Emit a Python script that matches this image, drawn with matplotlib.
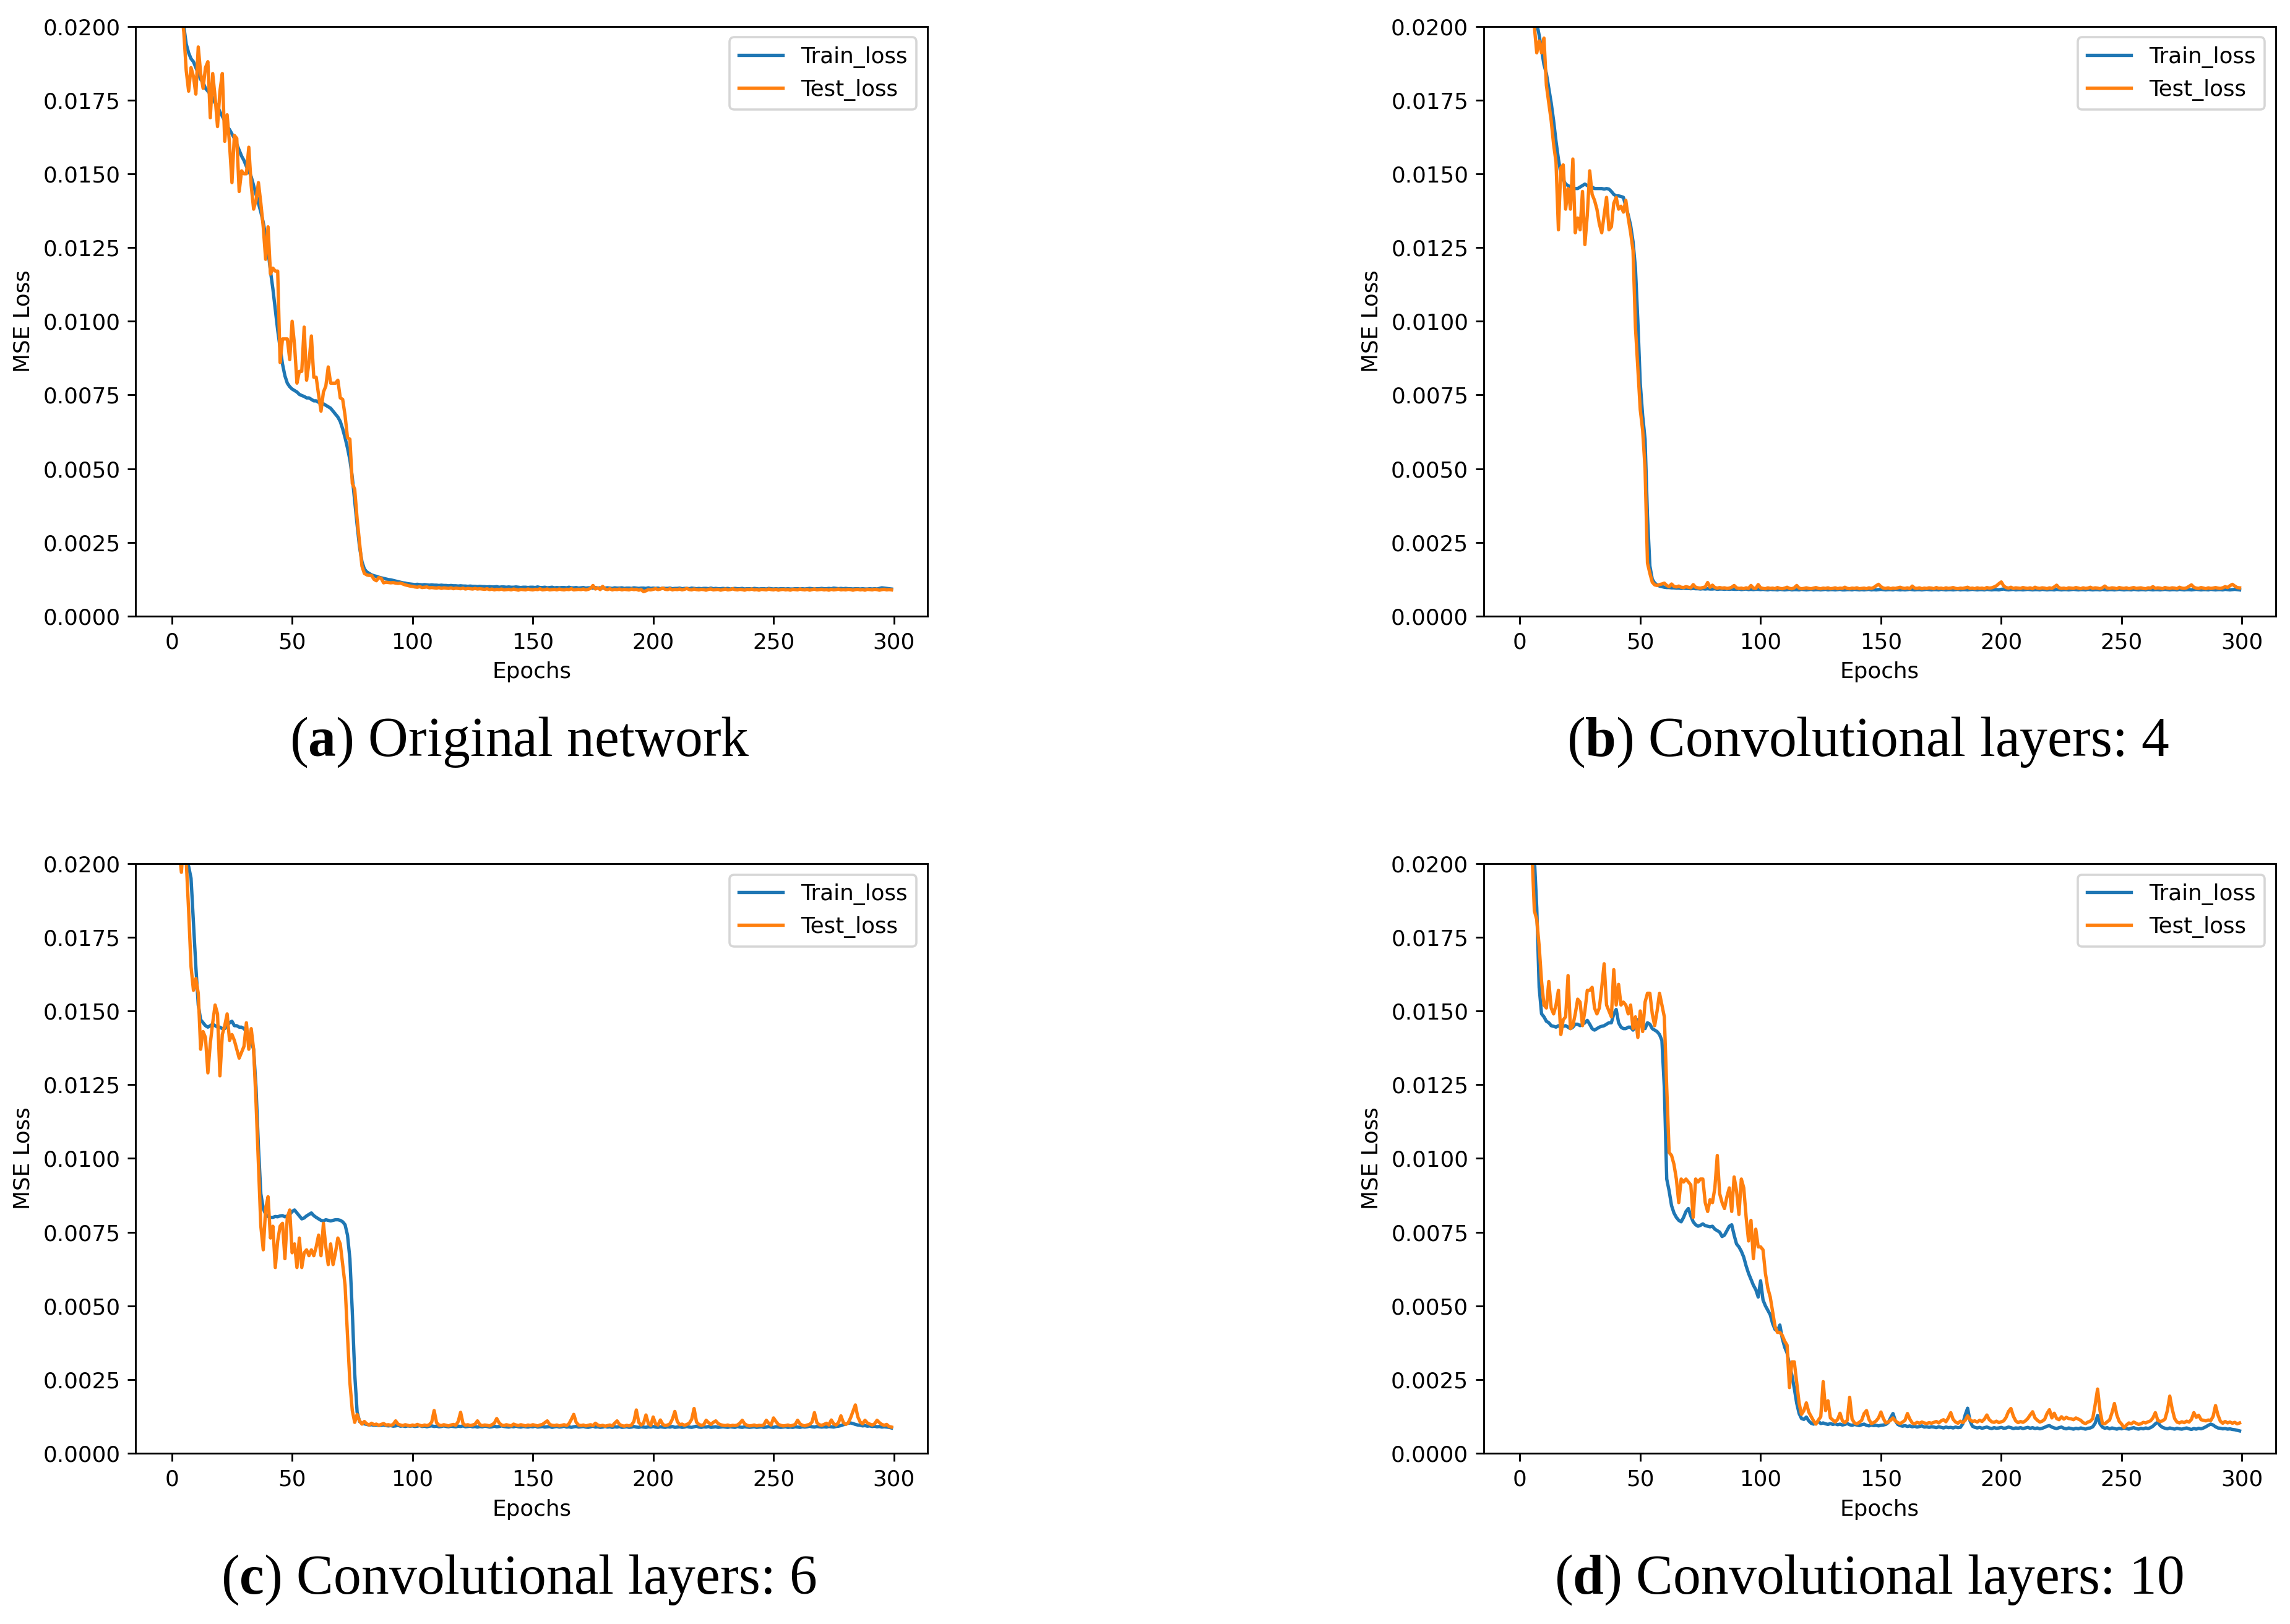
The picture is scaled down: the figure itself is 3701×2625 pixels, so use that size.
import numpy as np
import matplotlib
matplotlib.use("Agg")
import matplotlib.pyplot as plt

# loss values, in units of 1e-4, one value per epoch (0..299)
UNIT = 1e-4

TRAIN_A = [
    520, 380, 300, 250, 218, 200, 194, 191, 189, 188,
    186, 184, 182, 181, 179, 178, 177, 175.5, 174, 173,
    171, 169.5, 168, 166, 165, 163.5, 162, 160, 158, 156,
    154.5, 152.5, 151, 149, 146, 143, 140, 137, 133.5, 129,
    124, 117, 111, 104, 97, 91, 85.5, 81.5, 79, 77.8,
    77, 76.5, 76, 75.2, 74.8, 74.5, 74, 74, 73.5, 73,
    73, 72.5, 72, 72, 71.5, 71, 70.5, 69.5, 68.5, 67.5,
    66, 63.5, 60.5, 57, 53, 47, 39, 31, 23.5, 18.5,
    16, 15, 14.5, 14, 13.7, 13.5, 13.2, 13, 12.8, 12.6,
    12.4, 12.3, 12.1, 11.9, 11.7, 11.5, 11.3, 11.2, 11.0, 10.9,
    10.8, 10.7, 10.8, 10.7, 10.6, 10.7, 10.6, 10.5, 10.6, 10.5,
    10.5, 10.4, 10.5, 10.4, 10.4, 10.3, 10.4, 10.3, 10.3, 10.2,
    10.3, 10.2, 10.2, 10.1, 10.2, 10.1, 10.1, 10.0, 10.1, 10.0,
    10.0, 9.9, 10.0, 9.9, 9.9, 10.0, 9.8, 9.9, 9.9, 9.8,
    9.9, 9.8, 9.8, 9.9, 9.8, 9.7, 9.8, 9.8, 9.7, 9.8,
    9.8, 9.7, 9.9, 9.7, 9.7, 9.8, 9.6, 9.7, 9.8, 9.6,
    9.7, 9.6, 9.7, 9.7, 9.6, 9.8, 9.6, 9.6, 9.7, 9.5,
    9.6, 9.7, 9.5, 9.6, 9.6, 9.5, 9.7, 9.5, 9.6, 9.5,
    9.5, 9.6, 9.5, 9.4, 9.6, 9.5, 9.5, 9.6, 9.4, 9.5,
    9.5, 9.4, 9.6, 9.5, 9.4, 9.5, 9.5, 9.4, 9.6, 9.4,
    9.5, 9.4, 9.5, 9.3, 9.5, 9.4, 9.4, 9.5, 9.3, 9.4,
    9.4, 9.5, 9.3, 9.4, 9.4, 9.3, 9.5, 9.4, 9.3, 9.4,
    9.3, 9.4, 9.4, 9.3, 9.5, 9.3, 9.4, 9.3, 9.3, 9.4,
    9.3, 9.4, 9.2, 9.3, 9.4, 9.3, 9.3, 9.4, 9.2, 9.3,
    9.3, 9.2, 9.4, 9.3, 9.2, 9.3, 9.3, 9.2, 9.4, 9.3,
    9.2, 9.3, 9.2, 9.3, 9.3, 9.2, 9.3, 9.2, 9.2, 9.3,
    9.3, 9.2, 9.3, 9.2, 9.3, 9.4, 9.3, 9.2, 9.3, 9.3,
    9.4, 9.3, 9.3, 9.4, 9.3, 9.5, 9.4, 9.3, 9.4, 9.3,
    9.4, 9.3, 9.3, 9.2, 9.3, 9.3, 9.2, 9.3, 9.2, 9.2,
    9.3, 9.2, 9.3, 9.2, 9.4, 9.6, 9.5, 9.4, 9.3, 9.2,
]
TEST_A = [
    480, 350, 270, 225, 205, 198, 185, 178, 186, 183,
    177, 193, 184, 179, 186, 188, 169, 184, 176, 166,
    178, 184, 161, 170, 160, 147, 163, 162, 144, 151,
    150, 150, 159, 146, 138, 141, 147, 140, 132, 121,
    132, 116, 118, 117, 117, 86, 94, 94, 94, 87,
    100, 92, 79, 83, 83, 98, 80, 86, 95, 81,
    81, 75, 69.5, 76, 78, 84.5, 79, 79, 79, 80,
    74, 73.5, 68, 60.5, 60, 45, 43, 33, 25, 17,
    14.5, 14, 13.8, 13.8, 12.5, 12, 13.1, 12.8, 11.3, 11.5,
    11.4, 11.3, 11.4, 11.2, 11.1, 11.2, 10.9, 10.6, 10.4, 10.2,
    10.1, 9.9, 9.8, 10.0, 9.7, 9.8, 9.9, 9.6, 9.7, 9.6,
    9.5, 9.7, 9.4, 9.6, 9.5, 9.4, 9.6, 9.3, 9.5, 9.4,
    9.3, 9.5, 9.2, 9.4, 9.3, 9.2, 9.4, 9.2, 9.3, 9.2,
    9.1, 9.3, 9.0, 9.2, 8.9, 9.1, 9.0, 9.2, 8.9, 9.0,
    9.1, 8.9, 9.2, 9.0, 8.8, 9.1, 9.0, 8.9, 9.2, 9.0,
    8.9, 9.1, 9.0, 9.3, 8.9, 9.0, 9.2, 8.9, 9.0, 9.1,
    8.9, 9.2, 9.0, 8.9, 9.1, 9.0, 9.3, 8.9, 9.0, 9.1,
    9.0, 9.2, 8.9, 9.1, 9.4, 10.4, 9.2, 9.6, 9.0, 10.1,
    9.2, 9.0, 9.3, 8.9, 9.1, 9.0, 9.2, 8.9, 9.1, 9.0,
    8.9, 9.2, 9.0, 9.1, 8.8, 9.0, 8.3, 8.6, 9.0, 8.9,
    9.1, 9.3, 9.0, 9.2, 9.5, 9.1, 9.0, 9.3, 8.9, 9.1,
    9.0, 9.2, 8.9, 9.1, 9.4, 9.0, 8.9, 9.2, 9.0, 8.9,
    9.1, 9.0, 8.8, 9.1, 9.2, 8.9, 9.0, 9.1, 8.8, 9.0,
    9.2, 8.9, 9.0, 9.3, 9.0, 8.9, 9.1, 9.0, 8.8, 9.1,
    9.0, 9.2, 8.9, 9.0, 8.8, 9.1, 9.0, 8.9, 9.2, 9.0,
    8.9, 9.1, 8.8, 9.0, 9.1, 8.9, 9.0, 8.8, 9.1, 9.0,
    8.9, 9.2, 9.0, 8.9, 9.1, 8.8, 9.0, 9.2, 8.9, 9.0,
    9.1, 8.9, 9.0, 8.8, 9.1, 8.9, 9.0, 9.2, 8.9, 9.0,
    8.9, 9.1, 9.0, 8.8, 9.0, 9.1, 8.9, 9.0, 8.8, 9.1,
    9.0, 8.9, 9.1, 9.0, 8.8, 9.0, 9.1, 8.9, 9.0, 8.9,
]

TRAIN_B = [
    600, 420, 330, 270, 235, 215, 205, 201, 197, 192,
    187, 184, 179, 174, 168, 161, 155, 150, 148, 146.5,
    146, 145.5, 145, 145, 145, 145.5, 146, 146.5, 146, 145.5,
    145.5, 145, 145, 145, 145, 144.8, 145, 144.8, 144, 143,
    142.5, 142.5, 142.3, 142, 139, 136, 132.5, 127, 118, 100,
    79, 68, 60, 34, 17, 12.5, 11.2, 10.6, 10.2, 10.0,
    9.8, 9.7, 9.7, 9.6, 9.6, 9.5, 9.5, 9.4, 9.5, 9.4,
    9.4, 9.3, 9.4, 9.3, 9.3, 9.2, 9.3, 9.2, 9.3, 9.2,
    9.2, 9.3, 9.1, 9.2, 9.2, 9.1, 9.2, 9.1, 9.2, 9.1,
    9.1, 9.2, 9.0, 9.1, 9.2, 9.0, 9.1, 9.0, 9.1, 9.1,
    9.0, 9.1, 9.0, 8.9, 9.1, 9.0, 9.0, 8.9, 9.1, 9.0,
    8.9, 9.0, 9.1, 8.9, 9.0, 9.0, 8.9, 9.1, 9.0, 8.9,
    9.0, 9.1, 8.9, 9.0, 9.0, 8.9, 9.0, 9.1, 8.9, 9.0,
    9.0, 8.9, 9.0, 9.1, 8.9, 8.9, 9.0, 9.0, 8.9, 9.1,
    9.0, 8.9, 9.0, 8.9, 9.0, 9.1, 8.9, 9.0, 8.9, 9.0,
    9.1, 9.0, 8.9, 9.0, 9.0, 8.9, 9.1, 9.0, 8.9, 9.0,
    8.9, 9.0, 9.1, 9.0, 8.9, 9.0, 9.0, 8.9, 9.0, 9.1,
    9.0, 8.9, 9.0, 9.0, 8.9, 9.1, 9.0, 8.9, 9.0, 9.0,
    8.9, 9.0, 9.1, 8.9, 9.0, 9.0, 8.9, 9.0, 9.1, 9.0,
    8.9, 9.0, 9.0, 8.9, 9.1, 9.0, 8.9, 9.0, 9.0, 8.9,
    9.1, 9.2, 9.0, 8.9, 9.0, 9.1, 8.9, 9.0, 9.0, 8.9,
    9.0, 9.1, 9.0, 8.9, 9.0, 9.0, 8.9, 9.1, 9.0, 8.9,
    9.0, 9.0, 8.9, 9.1, 9.0, 8.9, 9.0, 9.0, 8.9, 9.0,
    9.1, 9.0, 8.9, 9.0, 9.0, 8.9, 9.1, 9.0, 8.9, 9.0,
    9.0, 8.9, 9.1, 9.0, 8.9, 9.0, 9.0, 8.9, 9.0, 9.1,
    9.0, 8.9, 9.0, 9.0, 8.9, 9.1, 9.0, 8.9, 9.0, 9.0,
    8.9, 9.1, 9.0, 8.9, 9.0, 9.0, 8.9, 9.0, 9.1, 9.0,
    8.9, 9.0, 9.0, 8.9, 9.1, 9.0, 8.9, 9.0, 9.0, 8.9,
    9.0, 9.1, 9.0, 8.9, 9.0, 9.0, 8.9, 9.1, 9.0, 8.9,
    9.0, 9.0, 8.9, 9.1, 9.0, 8.9, 9.0, 9.1, 9.0, 8.9,
]
TEST_B = [
    560, 400, 310, 255, 222, 205, 200, 191, 195, 191,
    196, 180, 174, 168, 160, 154, 131, 152, 153, 138,
    145, 138, 155, 130, 135, 131, 144, 126, 136, 151,
    143, 141, 138, 133, 130, 136, 142, 131, 132, 140,
    142, 138, 139, 137, 141, 135, 130, 124, 98, 84,
    70, 63, 50, 18, 14.5, 11.5, 10.6, 10.4, 10.7, 10.9,
    11.2, 10.4, 10.0, 10.9, 10.1, 9.9, 10.2, 9.8, 9.7, 10.0,
    9.8, 9.6, 10.7, 9.8, 9.6, 9.5, 9.7, 9.9, 11.4, 9.8,
    10.5, 9.7, 9.5, 9.7, 9.5, 9.6, 9.4, 9.5, 9.8, 10.4,
    9.6, 9.4, 9.5, 9.3, 9.6, 9.4, 10.4, 9.5, 9.4, 10.7,
    9.6, 9.4, 9.3, 9.6, 9.4, 9.5, 9.3, 9.7, 9.4, 9.3,
    9.5, 9.8, 9.4, 9.3, 9.6, 10.4, 9.5, 9.3, 9.4, 9.6,
    9.4, 9.3, 9.5, 9.7, 9.4, 9.3, 9.5, 9.4, 9.6, 9.3,
    9.4, 9.6, 9.3, 9.5, 9.4, 9.8, 9.4, 9.3, 9.5, 9.4,
    9.6, 9.3, 9.4, 9.5, 9.3, 9.6, 9.4, 9.7, 10.3, 10.8,
    10.0, 9.5, 9.4, 9.6, 9.3, 9.5, 9.4, 9.6, 9.8, 9.5,
    9.4, 9.6, 9.3, 10.2, 9.5, 9.4, 9.6, 9.3, 9.5, 9.4,
    9.6, 9.5, 9.3, 9.7, 9.4, 9.5, 9.3, 9.6, 9.4, 9.5,
    9.7, 9.4, 9.3, 9.5, 9.4, 9.6, 9.8, 9.4, 9.5, 9.3,
    9.6, 9.4, 9.5, 9.3, 9.7, 9.5, 9.6, 9.9, 10.3, 11.0,
    11.6, 10.2, 9.7, 9.5, 9.8, 9.4, 9.6, 9.5, 9.4, 9.7,
    9.5, 9.4, 9.6, 9.3, 9.8, 9.5, 9.4, 9.6, 9.5, 9.3,
    9.6, 9.4, 9.9, 10.5, 9.6, 9.4, 9.5, 9.3, 9.6, 9.5,
    9.4, 9.7, 9.5, 9.3, 9.6, 9.4, 9.5, 9.8, 9.4, 9.6,
    9.5, 9.3, 9.6, 10.2, 9.5, 9.4, 9.6, 9.5, 9.3, 9.7,
    9.5, 9.4, 9.6, 9.3, 9.5, 9.7, 9.4, 9.5, 9.6, 9.4,
    9.3, 9.6, 9.5, 10.0, 9.4, 9.6, 9.5, 9.3, 9.7, 9.5,
    9.4, 9.6, 9.5, 9.3, 9.8, 9.5, 9.4, 9.6, 10.1, 10.6,
    9.8, 9.5, 9.4, 9.7, 9.5, 9.3, 9.6, 9.4, 9.5, 9.7,
    9.5, 9.4, 9.6, 10.0, 9.7, 10.3, 10.8, 10.2, 9.7, 9.6,
]

TRAIN_C = [
    520, 370, 290, 245, 222, 210, 203, 199, 195, 180,
    165, 152, 147, 146, 145, 144.5, 145, 145.5, 145, 144.5,
    144.5, 144, 144, 145, 146, 146.5, 145, 145, 144.5, 144.5,
    144, 143, 141.5, 139.5, 137, 124, 104, 88, 83, 81,
    80.3, 80, 80, 80.3, 80.2, 80.5, 80.6, 80.2, 80.5, 81,
    82, 82.5, 81.5, 80.5, 79.5, 79.8, 80.5, 81, 81.5, 80.6,
    80, 79.5, 79, 78.8, 79.2, 79, 78.8, 79, 79.2, 79.2,
    79, 78.5, 77.5, 74, 66, 48, 27, 14, 10.8, 10.2,
    10.0, 9.8, 9.6, 9.7, 9.5, 9.6, 9.4, 9.5, 9.6, 9.4,
    9.3, 9.4, 9.2, 9.3, 9.5, 9.2, 9.3, 9.1, 9.3, 9.2,
    9.3, 9.1, 9.2, 9.4, 9.1, 9.2, 9.0, 9.2, 9.3, 9.1,
    9.2, 9.0, 9.1, 9.3, 9.1, 9.0, 9.2, 9.1, 9.0, 9.2,
    9.1, 9.3, 9.0, 9.1, 9.2, 9.0, 9.1, 8.9, 9.1, 9.0,
    9.2, 9.1, 8.9, 9.0, 9.2, 9.0, 9.1, 9.3, 9.1, 9.0,
    8.9, 9.1, 9.0, 9.2, 9.0, 8.9, 9.1, 9.0, 8.9, 9.1,
    9.0, 9.2, 8.9, 9.0, 9.1, 8.9, 9.0, 9.1, 8.8, 9.0,
    9.1, 8.9, 9.0, 9.2, 8.9, 9.0, 8.8, 9.0, 9.1, 8.9,
    9.0, 9.1, 8.9, 8.8, 9.0, 9.2, 8.9, 9.0, 8.8, 8.9,
    9.1, 8.9, 9.0, 8.8, 9.0, 8.9, 9.1, 8.8, 8.9, 9.0,
    8.8, 8.9, 9.1, 8.9, 8.8, 9.0, 8.9, 8.8, 9.0, 8.9,
    9.1, 8.9, 8.8, 9.0, 8.9, 8.8, 9.0, 8.9, 9.1, 8.8,
    8.9, 9.0, 8.8, 8.9, 9.1, 8.9, 8.8, 9.0, 9.2, 8.9,
    8.8, 9.0, 8.9, 9.1, 8.8, 8.9, 9.0, 8.8, 8.9, 9.0,
    8.9, 8.8, 9.0, 8.9, 8.8, 9.1, 8.9, 8.8, 9.0, 8.9,
    8.8, 8.9, 9.0, 8.8, 8.9, 9.0, 8.8, 8.9, 9.1, 8.9,
    8.8, 9.0, 8.9, 8.8, 8.9, 9.0, 8.8, 8.9, 8.8, 9.0,
    8.9, 8.8, 9.0, 8.9, 9.0, 9.2, 9.0, 8.9, 9.1, 9.0,
    8.9, 9.0, 8.9, 9.1, 9.0, 8.9, 9.1, 9.2, 9.4, 9.7,
    9.9, 10.2, 10.3, 10.1, 9.8, 9.6, 9.5, 9.3, 9.4, 9.2,
    9.3, 9.1, 9.2, 9.0, 9.1, 8.9, 9.0, 8.9, 8.8, 8.6,
]
TEST_C = [
    300, 250, 215, 205, 197, 210, 201, 184, 165, 157,
    161, 156, 137, 143, 141, 129, 139, 146, 152, 149,
    128, 142, 145, 149, 140, 142, 140, 137, 134, 136,
    138, 146, 137, 144, 137, 119, 98, 77, 69, 83,
    87, 73, 77, 63, 72, 77, 78, 66, 80, 82.5,
    68, 71, 63, 73, 63, 68, 69, 67, 69, 67,
    70, 74, 67, 78, 70, 64, 71, 64, 68, 73,
    71, 64, 57, 40, 24, 14.5, 10.5, 13.2, 11.0, 9.9,
    10.8, 10.0, 9.6, 10.2, 9.7, 9.9, 9.5, 9.8, 10.1, 9.6,
    9.7, 9.5, 9.8, 11.0, 9.9, 9.6, 9.4, 9.7, 9.5, 9.3,
    9.6, 9.4, 9.8, 9.5, 9.3, 9.6, 9.4, 9.7, 10.6, 14.5,
    10.4, 9.6, 9.4, 9.7, 9.5, 9.3, 9.6, 9.8, 9.5, 10.8,
    13.9, 10.1, 9.5, 9.7, 9.4, 9.6, 9.9, 11.0, 9.7, 9.4,
    9.6, 9.5, 9.3, 9.7, 10.2, 11.8, 10.3, 9.6, 9.4, 9.7,
    9.5, 9.3, 9.9, 9.6, 9.4, 9.7, 9.5, 9.3, 9.6, 9.4,
    9.7, 9.5, 9.3, 9.6, 9.8, 10.4, 11.0, 9.8, 9.5, 9.4,
    9.6, 9.3, 9.5, 9.7, 9.4, 10.0, 11.5, 13.2, 10.5, 9.6,
    9.4, 9.6, 9.3, 9.5, 9.7, 9.4, 10.2, 9.6, 9.3, 9.5,
    9.2, 9.4, 9.6, 9.3, 10.2, 11.0, 9.8, 9.4, 9.2, 9.5,
    9.3, 9.6, 10.8, 14.7, 10.5, 9.6, 10.2, 13.0, 10.1, 9.5,
    12.3, 10.0, 9.6, 11.3, 9.8, 9.4, 9.6, 10.0, 11.6, 14.2,
    10.8, 9.7, 9.9, 9.5, 9.8, 10.2, 11.5, 15.2, 10.6, 9.8,
    9.5, 9.7, 11.2, 10.4, 9.8, 10.5, 11.0, 10.1, 9.7, 9.5,
    9.4, 9.6, 9.3, 9.5, 9.4, 9.6, 10.2, 11.2, 10.0, 9.5,
    9.3, 9.4, 9.6, 9.3, 9.5, 9.4, 9.7, 11.2, 10.2, 9.6,
    12.0, 10.8, 9.8, 9.5, 9.3, 9.4, 9.6, 9.3, 9.5, 9.8,
    11.2, 10.0, 9.5, 9.3, 9.6, 9.8, 10.6, 13.8, 10.4, 9.7,
    9.5, 9.8, 10.2, 9.6, 11.3, 10.0, 9.6, 10.4, 12.7, 10.5,
    9.8, 10.3, 12.0, 14.2, 16.4, 12.4, 10.6, 10.0, 11.2, 10.3,
    9.9, 9.6, 10.0, 11.2, 10.4, 9.8, 9.5, 9.8, 9.1, 8.9,
]

TRAIN_D = [
    480, 350, 280, 240, 220, 207, 202, 185, 158, 149,
    148, 146.5, 146, 145, 144.8, 144.5, 145, 144.5, 144.8, 145,
    144.5, 144, 144.5, 145.5, 145.5, 145, 145.5, 146, 146.8, 145.5,
    144, 143.5, 144, 144.5, 144.8, 145, 145.5, 146, 146, 149,
    150.5, 146, 144.5, 144, 144, 144.5, 144.5, 143.5, 145, 147,
    146, 145, 144, 146, 145.5, 144, 143.5, 143, 142, 140,
    124, 93, 89, 84, 81.5, 80, 79, 78.5, 80, 82,
    83, 80.5, 78.5, 77.5, 77, 77.3, 77.8, 77.2, 77, 76.8,
    77, 76, 75.5, 75, 73.5, 74, 75.5, 77, 77.5, 74,
    71, 70, 68.5, 66.5, 63.5, 61, 59, 57, 55.5, 53,
    58.5, 52, 50, 48.5, 47, 44, 42, 41.5, 43.5, 39,
    36, 34, 30, 26.5, 22, 17, 13.5, 11.8, 11.5, 12.3,
    11.0, 10.2, 9.9, 10.3, 10.8, 10.1, 10.3, 10.0, 9.8, 10.1,
    9.8, 10.0, 9.7, 9.9, 9.6, 9.8, 10.1, 9.7, 9.5, 9.8,
    9.6, 9.4, 9.7, 9.9, 9.5, 9.3, 9.6, 9.4, 9.5, 9.3,
    9.5, 9.6, 9.8, 10.4, 12.0, 13.5, 11.0, 9.8, 9.4, 9.2,
    9.4, 9.1, 9.3, 9.0, 9.2, 8.9, 9.1, 9.3, 8.9, 9.0,
    8.8, 9.0, 8.9, 8.7, 9.0, 8.8, 8.6, 8.9, 8.7, 8.8,
    8.6, 8.9, 8.7, 8.8, 10.0, 13.0, 15.3, 11.0, 9.2, 8.8,
    8.6, 8.8, 8.5, 8.7, 8.9, 8.6, 8.4, 8.7, 8.5, 8.6,
    8.8, 8.5, 8.6, 8.9, 8.7, 8.4, 8.6, 8.5, 8.7, 8.4,
    8.6, 8.8, 8.5, 8.7, 8.4, 8.6, 8.3, 8.5, 8.8, 9.2,
    9.4, 8.9, 8.6, 8.4, 8.7, 8.9, 8.5, 8.3, 8.6, 8.4,
    8.2, 8.5, 8.3, 8.6, 8.4, 8.2, 8.5, 8.6, 9.0, 10.2,
    12.8, 10.0, 8.9, 8.5, 8.7, 8.3, 8.6, 8.4, 8.2, 8.5,
    8.3, 8.6, 8.4, 8.2, 8.5, 8.7, 8.4, 8.2, 8.5, 8.3,
    8.6, 8.4, 8.7, 9.2, 10.0, 10.6, 9.4, 8.8, 8.5, 8.3,
    8.6, 8.4, 8.2, 8.5, 8.3, 8.2, 8.4, 8.6, 8.3, 8.1,
    8.4, 8.2, 8.5, 8.3, 8.6, 9.0, 9.5, 9.9, 9.6, 9.0,
    8.6, 8.5, 8.3, 8.4, 8.2, 8.3, 8.1, 8.0, 7.8, 7.6,
]
TEST_D = [
    500, 360, 290, 245, 215, 204, 184, 181, 172, 160,
    152, 151, 160, 151, 149, 152, 157, 142, 147, 148,
    162, 144, 145, 149, 154, 153, 145, 150, 157, 157,
    158, 151, 149, 151, 158, 166, 152, 150, 148, 164,
    152, 159, 152, 153, 152, 149, 152, 144, 148, 141,
    150, 143, 153, 156, 156, 149, 145, 150, 156, 152,
    148, 124, 102, 101, 98, 93, 85, 93, 92, 93,
    92, 91, 80, 93, 92, 93, 93, 85, 82, 86,
    85, 90, 101, 88, 85, 83, 87, 90, 82, 93.7,
    89, 81, 93, 90, 80, 72, 79, 66, 76, 70,
    70, 69, 61, 56, 53, 48, 43, 41, 41, 40,
    38, 36.7, 22.3, 31, 31, 24, 17, 13.2, 14.5, 17.1,
    14.0, 12.5, 11.0, 9.9, 11.3, 12.4, 24.3, 14.5, 17.8, 12.0,
    11.3, 10.6, 11.5, 13.6, 11.0, 10.4, 11.2, 19.0, 11.6, 10.3,
    10.0, 10.5, 11.2, 13.5, 14.5, 11.5, 10.1, 10.4, 11.0, 12.0,
    14.0, 11.8, 10.3, 10.6, 11.2, 12.0, 11.0, 10.4, 10.1, 10.6,
    11.2, 13.5, 11.6, 10.3, 10.0, 10.5, 10.2, 10.6, 10.3, 10.1,
    10.4, 10.2, 10.5, 10.8, 10.3, 11.0, 11.4, 10.7, 12.0, 13.8,
    11.5, 10.6, 10.2, 10.9, 10.4, 11.2, 12.7, 11.4, 10.8, 11.0,
    10.6, 11.2, 10.8, 11.6, 13.0, 11.4, 10.7, 10.5, 10.9, 10.4,
    10.7, 11.0, 12.2, 14.2, 15.2, 12.6, 11.0, 10.4, 10.8, 10.5,
    11.0, 11.8, 13.0, 14.1, 12.0, 11.2, 10.6, 10.9, 11.5, 13.5,
    14.8, 12.0, 13.6, 11.8, 11.4, 12.4, 11.6, 12.2, 11.8, 11.7,
    11.4, 12.0, 11.6, 11.2, 10.4, 10.1, 10.6, 10.9, 11.8, 16.5,
    21.8, 14.5, 10.2, 10.0, 10.7, 11.3, 13.8, 16.9, 13.0, 10.8,
    9.9, 8.7, 9.6, 10.3, 10.0, 10.6, 10.2, 9.8, 10.0, 10.5,
    10.3, 10.7, 11.0, 12.0, 13.8, 11.2, 10.8, 11.0, 11.6, 14.5,
    19.4, 15.0, 11.8, 10.6, 10.3, 10.7, 10.4, 10.9, 10.6, 11.5,
    13.8, 12.2, 12.9, 11.4, 11.2, 11.0, 11.3, 11.1, 12.5, 16.2,
    13.0, 10.9, 10.2, 10.8, 10.3, 10.6, 10.2, 10.5, 10.0, 10.3,
]

CAPTIONS = [
    r"($\mathbf{a}$) Original network",
    r"($\mathbf{b}$) Convolutional layers: 4",
    r"($\mathbf{c}$) Convolutional layers: 6",
    r"($\mathbf{d}$) Convolutional layers: 10",
]
PANELS = [(TRAIN_A, TEST_A), (TRAIN_B, TEST_B), (TRAIN_C, TEST_C), (TRAIN_D, TEST_D)]

# each panel is a default 6.4x4.8 matplotlib figure shrunk to ~0.86
k = 0.86
plt.rcParams.update({
    "font.family": "DejaVu Sans",
    "font.size": 10 * k,
    "axes.linewidth": 0.8 * k,
    "lines.linewidth": 1.5 * k,
    "patch.linewidth": 1.0 * k,
    "xtick.major.size": 3.5 * k, "ytick.major.size": 3.5 * k,
    "xtick.major.width": 0.8 * k, "ytick.major.width": 0.8 * k,
    "xtick.major.pad": 3.5 * k, "ytick.major.pad": 3.5 * k,
    "axes.labelpad": 4.0 * k,
    "mathtext.fontset": "custom",
    "mathtext.rm": "Liberation Serif",
    "mathtext.bf": "Liberation Serif:bold",
})

fig = plt.figure(figsize=(3701 / 300, 2625 / 300), dpi=300)

rects = [
    [0.0593, 0.6206, 0.3457, 0.3632],
    [0.6480, 0.6206, 0.3457, 0.3632],
    [0.0593, 0.1051, 0.3457, 0.3632],
    [0.6480, 0.1051, 0.3457, 0.3632],
]
cap_pos = [(0.227, 0.5345), (0.8157, 0.5345), (0.2265, 0.019), (0.816, 0.019)]

for i, (train, test) in enumerate(PANELS):
    assert len(train) == 300 and len(test) == 300, (i, len(train), len(test))
    ax = fig.add_axes(rects[i])
    ep = np.arange(len(train))
    ax.plot(ep, np.array(train) * UNIT, color="#1f77b4", label="Train_loss")
    ax.plot(np.arange(len(test)), np.array(test) * UNIT, color="#ff7f0e", label="Test_loss")
    ax.set_ylim(0, 0.02)
    ax.set_xlabel("Epochs")
    ax.set_ylabel("MSE Loss")
    ax.legend(loc="upper right")
    fig.text(cap_pos[i][0], cap_pos[i][1], CAPTIONS[i], ha="center", va="baseline",
             family="Liberation Serif", size=21.5)

fig.savefig("out.png", dpi=300)
